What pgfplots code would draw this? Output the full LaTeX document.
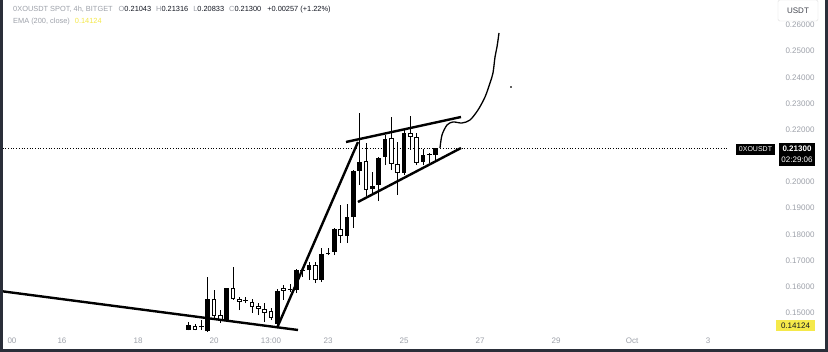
\documentclass[border=0pt]{standalone}
\usepackage{fontspec}
\setmainfont{Liberation Sans}
\usepackage{pgfplots}
\pgfplotsset{compat=1.18}
\usepackage{pgfplotstable}
\definecolor{lg}{HTML}{9EA2AA}
\definecolor{dk}{HTML}{131722}
\definecolor{yl}{HTML}{F5E94A}
\definecolor{frame}{HTML}{2A2E39}
\newcommand\fs{\fontsize{7.4}{9}\selectfont}
\newcommand\ft{\fontsize{8}{9}\selectfont}

% t = day of month, O H L C
\pgfplotstableread{
t O H L C
19.3333 0.1435 0.1465 0.1433 0.1454
19.8333 0.1431 0.1637 0.1428 0.1553
20.3333 0.1473 0.1597 0.1471 0.1595
20.8333 0.1547 0.1561 0.1538 0.1550
21.6667 0.1458 0.1592 0.1454 0.1584
22.0000 0.1588 0.1610 0.1580 0.1590
22.1667 0.1588 0.1667 0.1576 0.1664
22.3333 0.1660 0.1667 0.1637 0.1662
22.5000 0.1664 0.1694 0.1626 0.1683
22.8333 0.1626 0.1748 0.1618 0.1725
23.0000 0.1725 0.1748 0.1721 0.1727
23.1667 0.1733 0.1825 0.1721 0.1821
23.5000 0.1794 0.1916 0.1767 0.1866
23.6667 0.1866 0.2046 0.1825 0.2042
23.8333 0.2042 0.2264 0.1990 0.2077
24.1667 0.1973 0.2038 0.1958 0.1985
24.3333 0.1989 0.2096 0.1927 0.2092
24.5000 0.2096 0.2180 0.2065 0.2165
25.0000 0.2035 0.2199 0.2027 0.2187
25.5000 0.2077 0.2126 0.2065 0.2103
25.8333 0.21043 0.21316 0.20833 0.21300
}\up

\pgfplotstableread{
t O H L C
19.5000 0.1450 0.1458 0.1433 0.1436
19.6667 0.1448 0.1473 0.1435 0.1445
20.0000 0.1553 0.1588 0.1481 0.1488
20.1667 0.1492 0.1511 0.1462 0.1473
20.5000 0.1595 0.1676 0.1550 0.1553
20.6667 0.1553 0.1561 0.1511 0.1542
21.0000 0.1541 0.1553 0.1500 0.1522
21.1667 0.1526 0.1538 0.1492 0.1515
21.3333 0.1515 0.1538 0.1465 0.1500
21.5000 0.1507 0.1519 0.1473 0.1481
21.8333 0.1595 0.1607 0.1550 0.1584
22.6667 0.1683 0.1694 0.1614 0.1626
23.3333 0.1821 0.1912 0.1767 0.1794
24.0000 0.2080 0.2148 0.1946 0.1969
24.6667 0.2168 0.2249 0.2046 0.2069
24.8333 0.2069 0.2153 0.1951 0.2035
25.1667 0.2187 0.2252 0.2123 0.2172
25.3333 0.2172 0.2187 0.2065 0.2073
25.6667 0.2107 0.2111 0.2073 0.2103
}\down

\begin{document}
\begin{tikzpicture}[x=1pt,y=1pt]
\useasboundingbox (0,0) rectangle (828,352);
\fill[white] (0,0) rectangle (828,352);
\begin{axis}[
  at={(0pt,17pt)}, anchor=south west, scale only axis,
  width=727pt, height=335pt,
  xmin=14.3684, xmax=33.5, ymin=0.14158, ymax=0.26955,
  axis line style={draw=none}, major tick length=0pt,
  xtick={14.684,16,18,20,21.5,23,25,27,29,31,33},
  xticklabels={00,16,18,20,13:00,23,25,27,29,Oct,3},
  xticklabel style={font=\ft, text=lg, anchor=center, yshift=-6pt},
  ytick={0.15,0.16,0.17,0.18,0.19,0.20,0.22,0.23,0.24,0.25,0.26},
  yticklabel pos=right,
  scaled y ticks=false,
  yticklabel style={font=\ft, text=lg, anchor=center, xshift=73pt,
    /pgf/number format/.cd, fixed, fixed zerofill, precision=5, assume math mode=true},
]
% dotted last price line
\addplot [black, line width=0.7pt, dotted] coordinates {(14.3684,0.213) (33.5,0.213)};
% wicks
\addplot [draw=none, mark=none, error bars/.cd, y dir=plus, y explicit, error mark=none,
  error bar style={draw=black, line width=0.9pt}]
  table [x=t, y=L, y error expr=\thisrow{H}-\thisrow{L}] {\up};
\addplot [draw=none, mark=none, error bars/.cd, y dir=plus, y explicit, error mark=none,
  error bar style={draw=black, line width=0.9pt}]
  table [x=t, y=L, y error expr=\thisrow{H}-\thisrow{L}] {\down};
% up bodies (filled)
\addplot [draw=none, mark=none, error bars/.cd, y dir=plus, y explicit, error mark=none,
  error bar style={draw=black, line width=4.4pt}]
  table [x=t, y=O, y error expr={max(\thisrow{C}-\thisrow{O},0.0004)}] {\up};
% down bodies (hollow)
\addplot [draw=none, mark=none, error bars/.cd, y dir=plus, y explicit, error mark=none,
  error bar style={draw=black, line width=4.4pt}]
  table [x=t, y=C, y error expr={max(\thisrow{O}-\thisrow{C},0.0004)}] {\down};
\addplot [draw=none, mark=none, error bars/.cd, y dir=plus, y explicit, error mark=none,
  error bar style={draw=white, line width=2.6pt}]
  table [x=t, y expr=\thisrow{C}+0.00038, y error expr={max(\thisrow{O}-\thisrow{C}-0.00076,0)}] {\down};
% hand-drawn trend lines
\addplot [black, line width=2.4pt] coordinates {(14.368,0.15839) (22.2105,0.14349)};
\addplot [black, line width=2.4pt] coordinates {(21.658,0.14425) (23.789,0.21531)};
\addplot [black, line width=2.4pt] coordinates {(23.474,0.21531) (26.5,0.22486)};
\addplot [black, line width=2.4pt] coordinates {(23.789,0.19239) (26.5,0.21301)};
\addplot [black, line width=1.3pt, smooth] coordinates {
 (25.947,0.21301) (26.0,0.21798) (26.132,0.22180) (26.289,0.22295) (26.526,0.22257)
 (26.737,0.22371) (26.947,0.22753) (27.132,0.23250) (27.263,0.23784) (27.342,0.24169)
 (27.395,0.24778) (27.447,0.25160) (27.5,0.25695)};
\addplot [only marks, mark=*, mark size=0.6pt, black] coordinates {(27.816,0.23632)};
\end{axis}
% legend text
\node[anchor=west, font=\fs, inner sep=0pt] at (13,342) {\textcolor{lg}{0XOUSDT SPOT, 4h, BITGET}\hspace{6pt}\textcolor{lg}{O}\textcolor{dk}{0.21043}\hspace{5pt}\textcolor{lg}{H}\textcolor{dk}{0.21316}\hspace{5pt}\textcolor{lg}{L}\textcolor{dk}{0.20833}\hspace{5pt}\textcolor{lg}{C}\textcolor{dk}{0.21300}\hspace{6pt}\textcolor{dk}{+0.00257 (+1.22\%)}};
\node[anchor=west, font=\fs, inner sep=0pt] at (13,330) {\textcolor{lg}{EMA (200, close)}\hspace{5pt}\textcolor{yl}{0.14124}};
% right price scale labels
\draw[draw=gray!25, fill=white, rounded corners=1.5pt] (778,331) rectangle (818,352);
\node[font=\ft, text=dk!80] at (798,341) {USDT};
\fill[black] (736,197) rectangle (775,208);
\node[font=\fontsize{7}{8}\selectfont, text=white, inner sep=0pt] at (755.5,202.5) {0XOUSDT};
\fill[black] (779,186) rectangle (815,209);
\node[font=\bfseries\ft, text=white, inner sep=0pt] at (797,203) {0.21300};
\node[font=\ft, text=white, inner sep=0pt] at (797,192) {02:29:06};
\fill[yl] (776,21) rectangle (815,32);
\node[font=\ft, text=dk, inner sep=0pt] at (795.5,26.5) {0.14124};
% frame
\fill[frame] (0,0) rectangle (3,352);
\fill[frame] (0,0) rectangle (828,3);
\fill[frame] (825,0) rectangle (828,352);
\end{tikzpicture}
\end{document}
